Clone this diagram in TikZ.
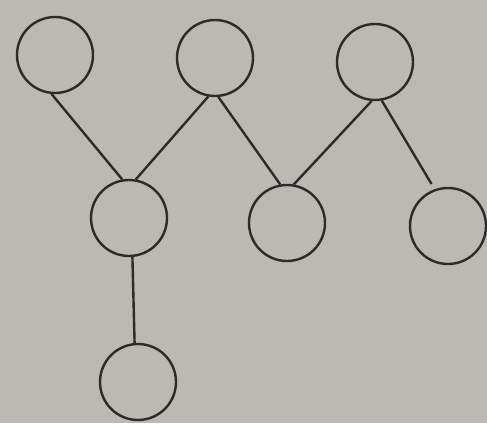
\documentclass[tikz,border=0pt]{standalone}
\usepackage{tikz}

\definecolor{paper}{RGB}{188,185,181}
\definecolor{ink}{RGB}{45,43,42}

\begin{document}
\begin{tikzpicture}[x=1pt,y=-1pt,
    vertex/.style={circle, draw=ink, line width=2.4pt, minimum size=76pt, inner sep=0pt},
    edge/.style={draw=ink, line width=2.4pt}]
            \fill[paper] (0,0) rectangle (487,423);
            \useasboundingbox (0,0) rectangle (487,423);

            \node[vertex] (t1) at (55,55) {};
            \node[vertex] (t2) at (215,58) {};
            \node[vertex] (t3) at (375,62) {};
            \node[vertex] (m1) at (129,218) {};
            \node[vertex] (m2) at (287,223) {};
            \node[vertex] (m3) at (448,226) {};
            \node[vertex] (b1) at (138,382) {};

            \draw[edge] (t1.-95) -- (m1.100);
            \draw[edge] (t2.-100) -- (m1.80);
            \draw[edge] (t2.-85) -- (m2.100);
            \draw[edge] (t3.-95) -- (m2.80);
            \draw[edge, shorten >=6pt] (t3.-80) -- (m3.110);
            \draw[edge] (m1.-85) -- (b1.95);
        \end{tikzpicture}
\end{document}
